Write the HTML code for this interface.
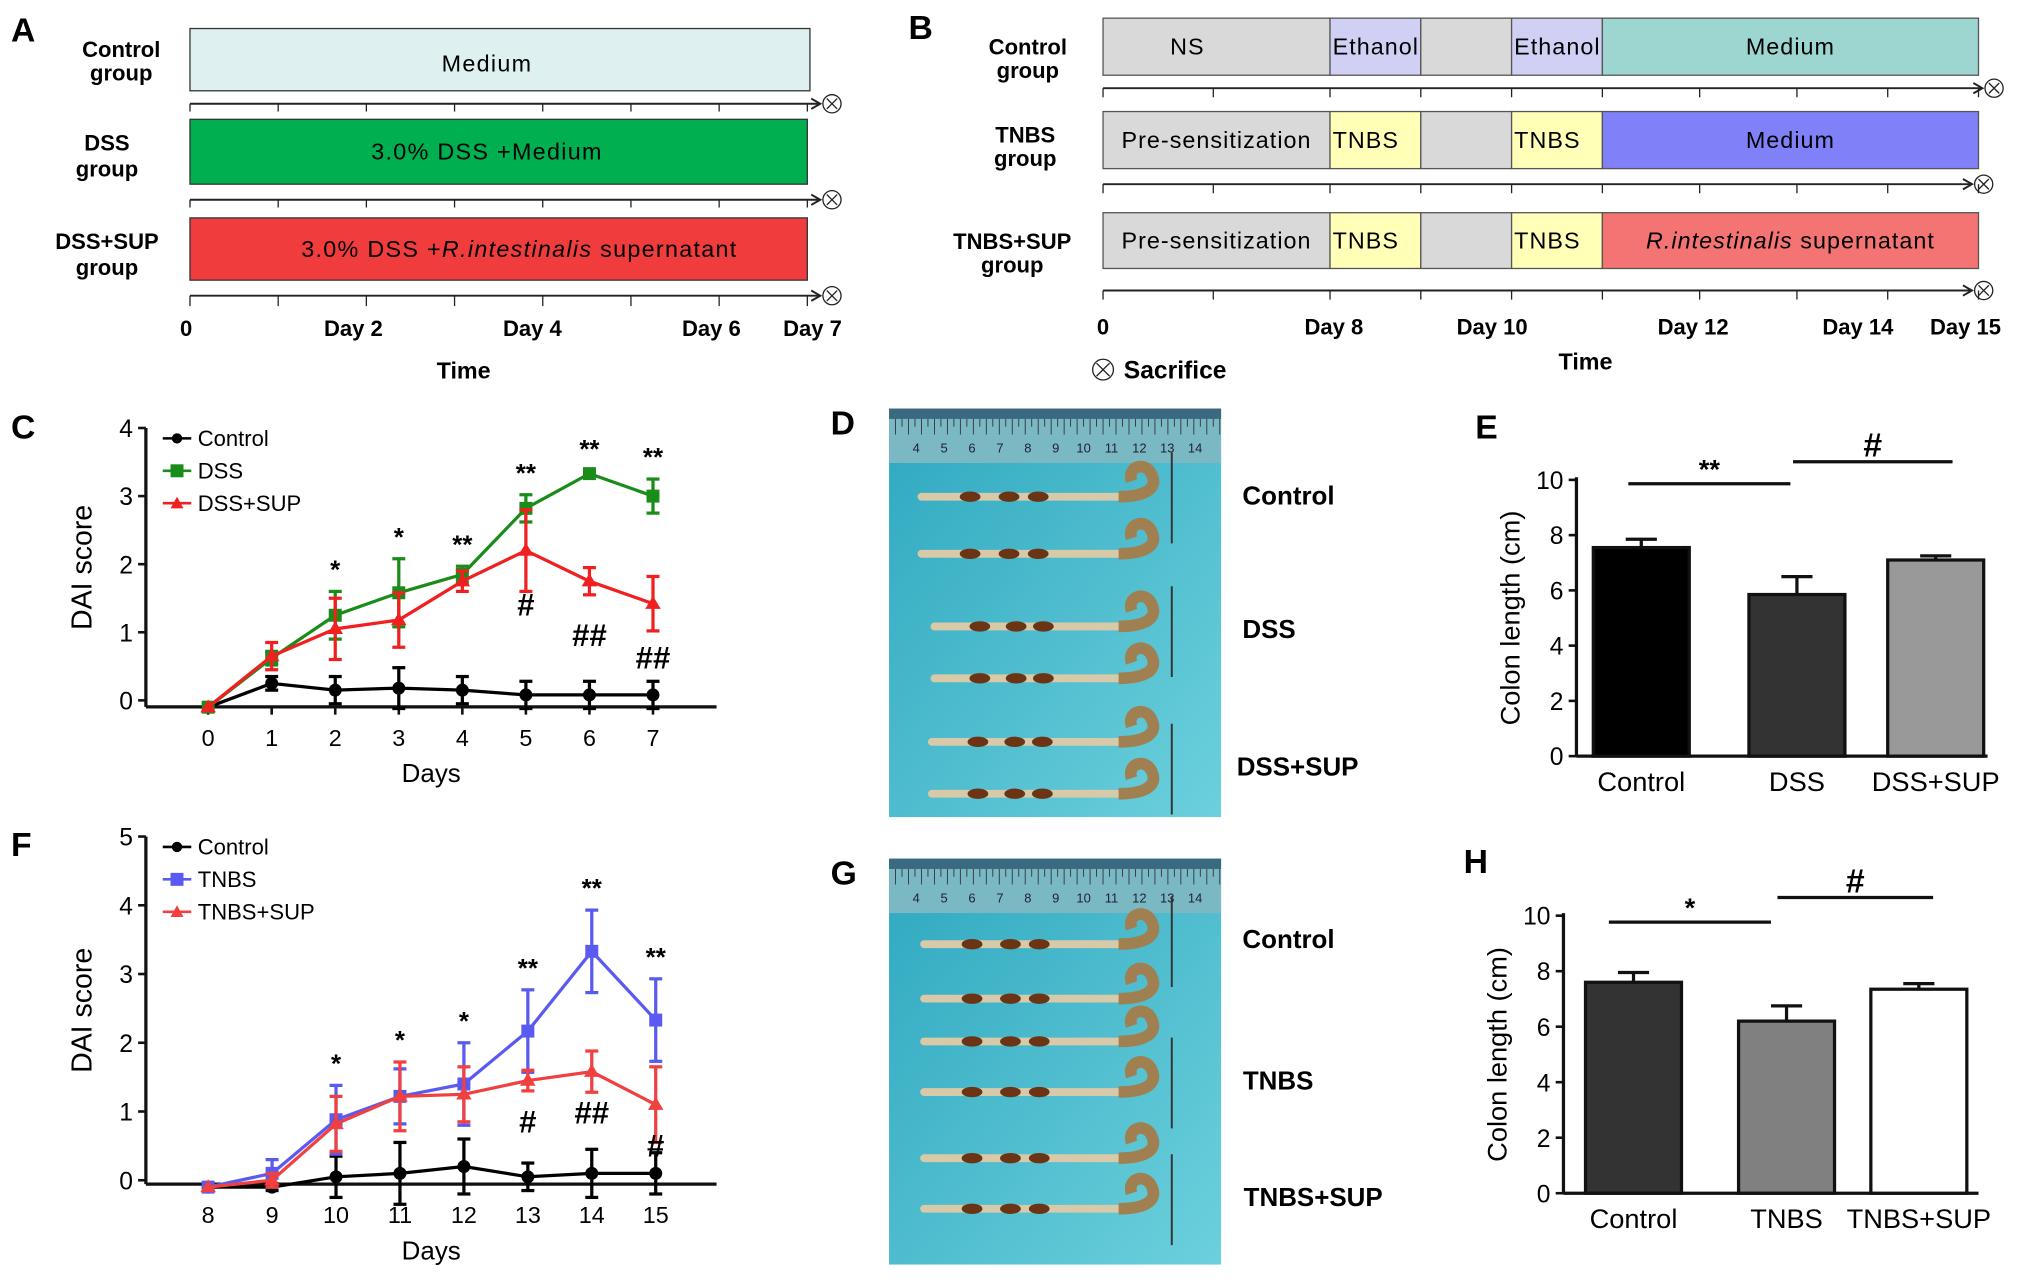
<!DOCTYPE html>
<html><head><meta charset="utf-8"><style>
body{margin:0;background:#fff}
svg{display:block;font-family:"Liberation Sans",sans-serif}
.b{font-weight:bold}
</style></head><body>
<svg id="fig" width="2031" height="1284" viewBox="0 0 1565 990" xmlns="http://www.w3.org/2000/svg">
<defs>
<linearGradient id="bg1" x1="0" y1="0" x2="1" y2="1"><stop offset="0" stop-color="#2fa8c0"/><stop offset="1" stop-color="#6cd0dc"/></linearGradient>
</defs>
<g font-size="17">
<text x="8" y="32" font-size="26" class="b">A</text>
<text x="93" y="44" text-anchor="middle" class="b">Control</text>
<text x="93" y="62" text-anchor="middle" class="b">group</text>
<text x="82" y="116" text-anchor="middle" class="b">DSS</text>
<text x="82" y="136" text-anchor="middle" class="b">group</text>
<text x="82" y="192" text-anchor="middle" class="b">DSS+SUP</text>
<text x="82" y="212" text-anchor="middle" class="b">group</text>
<rect x="146" y="22" width="478" height="48" fill="#dff0f0" stroke="#333"/>
<text x="375" y="55" text-anchor="middle" font-size="18" letter-spacing="1">Medium</text>
<rect x="146" y="92" width="476" height="50" fill="#00b050" stroke="#333"/>
<text x="375" y="123" text-anchor="middle" font-size="18" letter-spacing="1">3.0% DSS +Medium</text>
<rect x="146" y="168" width="476" height="48" fill="#f03c3c" stroke="#333"/>
<text x="400" y="198" text-anchor="middle" font-size="18" letter-spacing="1">3.0% DSS +<tspan font-style="italic">R.intestinalis</tspan> supernatant</text>
</g>
<g font-size="17">
<text x="700" y="30" font-size="26" class="b">B</text>
<text x="792" y="42" text-anchor="middle" class="b">Control</text>
<text x="792" y="60" text-anchor="middle" class="b">group</text>
<text x="790" y="110" text-anchor="middle" class="b">TNBS</text>
<text x="790" y="128" text-anchor="middle" class="b">group</text>
<text x="780" y="192" text-anchor="middle" class="b">TNBS+SUP</text>
<text x="780" y="210" text-anchor="middle" class="b">group</text>
</g>
<g id="timelines"></g>
<g id="chartC"></g>
<g id="chartF"></g>
<g id="chartE"></g>
<g id="chartH"></g>
<g id="photos"></g>
</svg>
<script>
const NS="http://www.w3.org/2000/svg";
function mk(p,tag,at,txt){const e=document.createElementNS(NS,tag);for(const k in at)e.setAttribute(k,at[k]);if(txt!==undefined)e.textContent=txt;p.appendChild(e);return e;}

// ---- chart C data ----
const cDays=[0,1,2,3,4,5,6,7];
const cControl=[-0.1,0.25,0.15,0.18,0.15,0.08,0.08,0.08];
const cControlErr=[0,0.1,0.2,0.3,0.2,0.2,0.2,0.2];
const cDSS=[-0.1,0.62,1.25,1.58,1.85,2.82,3.33,3.0];
const cDSSErr=[0,0.1,0.35,0.5,0.12,0.2,0.04,0.25];
const cSUP=[-0.1,0.65,1.05,1.18,1.75,2.2,1.75,1.42];
const cSUPErr=[0,0.2,0.45,0.4,0.15,0.6,0.2,0.4];
const cStars=["","","*","*","**","**","**","**"];
const cHash=["","","","","","#","##","##"];
const cYTicks=[0,1,2,3,4];
// ---- chart F data ----
const fDays=[8,9,10,11,12,13,14,15];
const fControl=[-0.1,-0.1,0.05,0.1,0.2,0.05,0.1,0.1];
const fControlErr=[0,0.05,0.3,0.45,0.4,0.2,0.35,0.3];
const fTNBS=[-0.1,0.1,0.88,1.22,1.4,2.17,3.33,2.33];
const fTNBSErr=[0,0.2,0.5,0.4,0.6,0.6,0.6,0.6];
const fSUP=[-0.1,0.0,0.82,1.22,1.25,1.45,1.58,1.1];
const fSUPErr=[0,0.1,0.4,0.5,0.4,0.15,0.3,0.55];
const fStars=["","","*","*","*","**","**","**"];
const fHash=["","","","","","#","##","#"];
const fYTicks=[0,1,2,3,4,5];
// ---- bar chart E ----
const eCats=["Control","DSS","DSS+SUP"];
const eVals=[7.55,5.85,7.1];
const eErr=[0.3,0.65,0.15];
// ---- bar chart H ----
const hCats=["Control","TNBS","TNBS+SUP"];
const hVals=[7.6,6.2,7.35];
const hErr=[0.35,0.55,0.2];
const barYTicks=[0,2,4,6,8,10];

// timelines
(function(){
const g=document.getElementById('timelines');
function arrow(x1,x2,y,n){
  const l=mk(g,'line',{x1:x1,y1:y,x2:x2,y2:y,stroke:'#222','stroke-width':1.5});
  
  
  mk(g,'path',{d:`M${x2-7} ${y-4} L${x2} ${y} L${x2-7} ${y+4}`,fill:'none',stroke:'#222','stroke-width':1.5});
  const c=mk(g,'circle',{cx:x2+9,cy:y,r:7,fill:'#fff',stroke:'#222'});
  
  
  mk(g,'path',{d:`M${x2+5} ${y-4} L${x2+13} ${y+4} M${x2+13} ${y-4} L${x2+5} ${y+4}`,stroke:'#222'});
}
arrow(146,632,80,'a-control');arrow(146,632,154,'a-dss');arrow(146,632,228,'a-dsssup');
for(let i=0;i<8;i++){const x=146+i*68;mk(g,'line',{x1:x,y1:228,x2:x,y2:236,stroke:'#222'});mk(g,'line',{x1:x,y1:80,x2:x,y2:86,stroke:'#222'});mk(g,'line',{x1:x,y1:154,x2:x,y2:160,stroke:'#222'});}
const al=[["0",143],["Day 2",272],["Day 4",410],["Day 6",548],["Day 7",626]];
al.forEach(a=>{const t=mk(g,'text',{x:a[1],y:259,'text-anchor':'middle','font-size':17,'font-weight':'bold'},a[0]);});
let t=mk(g,'text',{x:357,y:292,'text-anchor':'middle','font-size':18,'font-weight':'bold'},'Time');

const segs=[[850,1025],[1025,1095],[1095,1165],[1165,1235],[1235,1525]];
const rows=[{y:14,h:44,c:['#d9d9d9','#d0d0f4','#d9d9d9','#d0d0f4','#9dd6d0'],t:['NS','Ethanol','','Ethanol','Medium'],n:'b-control'},
 {y:86,h:44,c:['#d9d9d9','#ffffb8','#d9d9d9','#ffffb8','#8080f8'],t:['Pre-sensitization','TNBS','','TNBS','Medium'],n:'b-tnbs'},
 {y:164,h:43,c:['#d9d9d9','#ffffb8','#d9d9d9','#ffffb8','#f47373'],t:['Pre-sensitization','TNBS','','TNBS','R.intestinalis supernatant'],n:'b-tnbssup'}];
rows.forEach(r=>{segs.forEach((s,i)=>{const rc=mk(g,'rect',{x:s[0],y:r.y,width:s[1]-s[0],height:r.h,fill:r.c[i],stroke:'#555'});
 });
 r.t.forEach((tx,i)=>{if(!tx)return;let x=(segs[i][0]+segs[i][1])/2;let anchor='middle';
  if(i==1||i==3){x=segs[i][0]+2;anchor='start';}
  if(tx==='NS')x=915;
  const te=mk(g,'text',{x:x,y:r.y+r.h/2+6,'text-anchor':anchor,'font-size':18,'letter-spacing':0.8},'');
  if(tx.startsWith('R.')){mk(te,'tspan',{'font-style':'italic'},'R.intestinalis');mk(te,'tspan',{},' supernatant');}else te.textContent=tx;
  });});
arrow(850,1528,68,'b-control');arrow(850,1520,142,'b-tnbs');arrow(850,1520,224,'b-tnbssup');
[850,935,1025,1095,1165,1235,1310,1385,1455,1525].forEach(x=>{[68,142,224].forEach(y=>mk(g,'line',{x1:x,y1:y,x2:x,y2:y+7,stroke:'#222'}));});
[["0",850],["Day 8",1028],["Day 10",1150],["Day 12",1305],["Day 14",1432],["Day 15",1515]].forEach(a=>{const te=mk(g,'text',{x:a[1],y:258,'text-anchor':'middle','font-size':17,'font-weight':'bold'},a[0]);});
t=mk(g,'text',{x:1222,y:285,'text-anchor':'middle','font-size':18,'font-weight':'bold'},'Time');

mk(g,'circle',{cx:850,cy:285,r:8,fill:'#fff',stroke:'#222'});
mk(g,'path',{d:'M845 280 L855 290 M855 280 L845 290',stroke:'#222'});
t=mk(g,'text',{x:866,y:292,'font-size':19,'font-weight':'bold'},'Sacrifice');

})();

function lineChart(id,o){
 const g=document.getElementById(id);
 const xs=d=>o.x0+(d-o.d0)*o.dx, ys=v=>o.y0-v*o.dy;
 mk(g,'text',{x:o.lx,y:o.ly,'font-size':26,'font-weight':'bold'},o.label);
 mk(g,'line',{x1:o.ax,y1:o.ytop,x2:o.ax,y2:o.abase,stroke:'#111','stroke-width':2.5});
 mk(g,'line',{x1:o.ax,y1:o.abase,x2:o.aright,y2:o.abase,stroke:'#111','stroke-width':2.5});
 o.yt.forEach(v=>{mk(g,'line',{x1:o.ax-6,y1:ys(v),x2:o.ax,y2:ys(v),stroke:'#111','stroke-width':2});
  const te=mk(g,'text',{x:o.ax-10,y:ys(v)+7,'text-anchor':'end','font-size':19},v);
  });
 o.days.forEach(d=>{mk(g,'line',{x1:xs(d),y1:o.abase,x2:xs(d),y2:o.abase+6,stroke:'#111','stroke-width':2});
  const te=mk(g,'text',{x:xs(d),y:o.abase+30,'text-anchor':'middle','font-size':18},d);
  });
 let te=mk(g,'text',{x:0,y:0,'text-anchor':'middle','font-size':22,transform:`translate(${o.ax-42},${(o.ytop+o.abase)/2}) rotate(-90)`},'DAI score');
 
 te=mk(g,'text',{x:(o.ax+o.aright)/2,y:o.abase+58,'text-anchor':'middle','font-size':20},'Days');
 
 o.series.forEach(s=>{
  const pts=s.v.map((v,i)=>xs(o.days[i])+','+ys(v)).join(' ');
  s.v.forEach((v,i)=>{const x=xs(o.days[i]);const e=s.e[i];if(e>0){mk(g,'line',{x1:x,y1:ys(v-e),x2:x,y2:ys(v+e),stroke:s.c,'stroke-width':2.5});mk(g,'line',{x1:x-5,y1:ys(v+e),x2:x+5,y2:ys(v+e),stroke:s.c,'stroke-width':2.5});mk(g,'line',{x1:x-5,y1:ys(v-e),x2:x+5,y2:ys(v-e),stroke:s.c,'stroke-width':2.5});}});
  const pl=mk(g,'polyline',{points:pts,fill:'none',stroke:s.c,'stroke-width':2.5});
  
  s.v.forEach((v,i)=>{const x=xs(o.days[i]),y=ys(v);let m;
   if(s.m=='c')m=mk(g,'circle',{cx:x,cy:y,r:5,fill:s.c});
   else if(s.m=='s')m=mk(g,'rect',{x:x-5,y:y-5,width:10,height:10,fill:s.c});
   else m=mk(g,'path',{d:`M${x} ${y-6} L${x+6} ${y+4} L${x-6} ${y+4}Z`,fill:s.c});
   });
 });
 o.days.forEach((d,i)=>{
  if(o.stars[i]){const top=Math.max(...o.series.map(s=>s.v[i]+s.e[i]));const te=mk(g,'text',{x:xs(d),y:ys(top)-10,'text-anchor':'middle','font-size':20,'font-weight':'bold'},o.stars[i]);}
  if(o.hash[i]){const s=o.series[2];const te=mk(g,'text',{x:xs(d),y:ys(s.v[i])+o.hoff,'text-anchor':'middle','font-size':24,'font-weight':'bold'},o.hash[i]);}
 });
 o.series.forEach((s,k)=>{const y=o.legY+k*25;mk(g,'line',{x1:o.legX,y1:y,x2:o.legX+22,y2:y,stroke:s.c,'stroke-width':2});
  if(s.m=='c')mk(g,'circle',{cx:o.legX+11,cy:y,r:4,fill:s.c});else if(s.m=='s')mk(g,'rect',{x:o.legX+6,y:y-5,width:10,height:10,fill:s.c});else mk(g,'path',{d:`M${o.legX+11} ${y-5} L${o.legX+16} ${y+4} L${o.legX+6} ${y+4}Z`,fill:s.c});
  const te=mk(g,'text',{x:o.legX+27,y:y+6,'font-size':17},s.n);});
}
lineChart('chartC',{label:'C',lx:8,ly:338,x0:160,d0:0,dx:49,y0:540,dy:52.5,ax:112,ytop:330,abase:545,aright:552,yt:cYTicks,days:cDays,
 series:[{n:'Control',v:cControl,e:cControlErr,c:'#000',m:'c'},{n:'DSS',v:cDSS,e:cDSSErr,c:'#1a8c1a',m:'s'},{n:'DSS+SUP',v:cSUP,e:cSUPErr,c:'#f02020',m:'t'}],
 stars:cStars,hash:cHash,hoff:50,legX:125,legY:338});
lineChart('chartF',{label:'F',lx:8,ly:660,x0:160,d0:8,dx:49.3,y0:910,dy:53,ax:112,ytop:645,abase:913,aright:552,yt:fYTicks,days:fDays,
 series:[{n:'Control',v:fControl,e:fControlErr,c:'#000',m:'c'},{n:'TNBS',v:fTNBS,e:fTNBSErr,c:'#5a5af0',m:'s'},{n:'TNBS+SUP',v:fSUP,e:fSUPErr,c:'#f04040',m:'t'}],
 stars:fStars,hash:fHash,hoff:40,legX:125,legY:653});

function barChart(id,o){
 const g=document.getElementById(id);
 const ys=v=>o.y0-v*o.dy;
 mk(g,'text',{x:o.lx,y:o.ly,'font-size':26,'font-weight':'bold'},o.label);
 mk(g,'line',{x1:o.ax,y1:ys(10)-2,x2:o.ax,y2:o.y0,stroke:'#111','stroke-width':2.5});
 mk(g,'line',{x1:o.ax,y1:o.y0,x2:o.right,y2:o.y0,stroke:'#111','stroke-width':2.5});
 barYTicks.forEach(v=>{mk(g,'line',{x1:o.ax-6,y1:ys(v),x2:o.ax,y2:ys(v),stroke:'#111','stroke-width':2});
  const te=mk(g,'text',{x:o.ax-10,y:ys(v)+7,'text-anchor':'end','font-size':19},v);});
 let te=mk(g,'text',{x:0,y:0,'text-anchor':'middle','font-size':21,transform:`translate(${o.ax-44},${ys(5)}) rotate(-90)`},'Colon length (cm)');
 
 o.cats.forEach((c,i)=>{const x=o.bx[i];const w=o.bw;
  const r=mk(g,'rect',{x:x,y:ys(o.vals[i]),width:w,height:o.y0-ys(o.vals[i]),fill:o.fills[i],stroke:'#111','stroke-width':2.5});
  
  const m=x+w/2;mk(g,'line',{x1:m,y1:ys(o.vals[i]),x2:m,y2:ys(o.vals[i]+o.err[i]),stroke:'#111','stroke-width':2.5});
  mk(g,'line',{x1:m-12,y1:ys(o.vals[i]+o.err[i]),x2:m+12,y2:ys(o.vals[i]+o.err[i]),stroke:'#111','stroke-width':2.5});
  const t=mk(g,'text',{x:m,y:o.y0+27,'text-anchor':'middle','font-size':21},c);});
 o.sig.forEach(s=>{mk(g,'line',{x1:s[0],y1:s[2],x2:s[1],y2:s[2],stroke:'#111','stroke-width':2.5});
  const t=mk(g,'text',{x:(s[0]+s[1])/2,y:s[2]-4,'text-anchor':'middle','font-size':s[3]=='#'?26:21,'font-weight':'bold'},s[3]);});
}
barChart('chartE',{label:'E',lx:1137,ly:338,ax:1215,y0:583,dy:21.3,right:1532,cats:eCats,vals:eVals,err:eErr,bx:[1228,1348,1455],bw:74,fills:['#000','#333','#999'],sig:[[1255,1380,373,'**'],[1382,1505,356,'#']]});
barChart('chartH',{label:'H',lx:1128,ly:673,ax:1205,y0:920,dy:21.4,right:1525,cats:hCats,vals:hVals,err:hErr,bx:[1222,1340,1442],bw:74,fills:['#333','#808080','#fff'],sig:[[1240,1365,711,'*'],[1370,1490,692,'#']]});

// photos
(function(){
const g=document.getElementById('photos');
function photo(y,h,labels,rowsY,lens,n){
 const r=mk(g,'rect',{x:685,y:y,width:256,height:h,fill:'url(#bg1)'});
 
 mk(g,'rect',{x:685,y:y,width:256,height:42,fill:'#7ab8c4'});
 mk(g,'rect',{x:685,y:y,width:256,height:8,fill:'#3b6a80'});
 for(let i=0;i<=50;i++){const x=690+i*5;mk(g,'line',{x1:x,y1:y+8,x2:x,y2:y+(i%2?14:20),stroke:'#334','stroke-width':0.7});}
 for(let k=4;k<=14;k++)mk(g,'text',{x:706+(k-4)*21.5,y:y+34,'font-size':10,'text-anchor':'middle',fill:'#223'},k);
 rowsY.forEach((ry,i)=>{const x0=lens[i];
  mk(g,'path',{d:`M${x0} ${ry} L862 ${ry}`,stroke:'#d8c9a8','stroke-width':6,'stroke-linecap':'round'});
  mk(g,'path',{d:`M862 ${ry} C 882 ${ry} 892 ${ry-6} 888 ${ry-16} C 884 ${ry-28} 868 ${ry-24} 872 ${ry-12}`,fill:'none',stroke:'#a08050','stroke-width':9});
  [0.25,0.45,0.6].forEach(f=>mk(g,'ellipse',{cx:x0+(860-x0)*f,cy:ry,rx:8,ry:4,fill:'#6b3515'}));});
 labels.forEach(l=>{const t=mk(g,'text',{x:l[1],y:l[2],'text-anchor':'middle','font-size':20,'font-weight':'bold'},l[0]);});
 labels.forEach(l=>mk(g,'line',{x1:903,y1:l[2]-40,x2:903,y2:l[2]+30,stroke:'#333','stroke-width':1.5}));
 mk(g,'text',{x:640,y:y+20,'font-size':26,'font-weight':'bold'},n=='d'?'D':'G');
}
photo(315,315,[['Control',993,389],['DSS',978,492],['DSS+SUP',1000,598]],[383,427,483,523,572,612],[710,710,720,720,718,718],'d');
photo(662,313,[['Control',993,731],['TNBS',985,840],['TNBS+SUP',1012,930]],[728,770,803,842,893,932],[712,712,712,712,712,712],'g');
})();
</script>
</body></html>
